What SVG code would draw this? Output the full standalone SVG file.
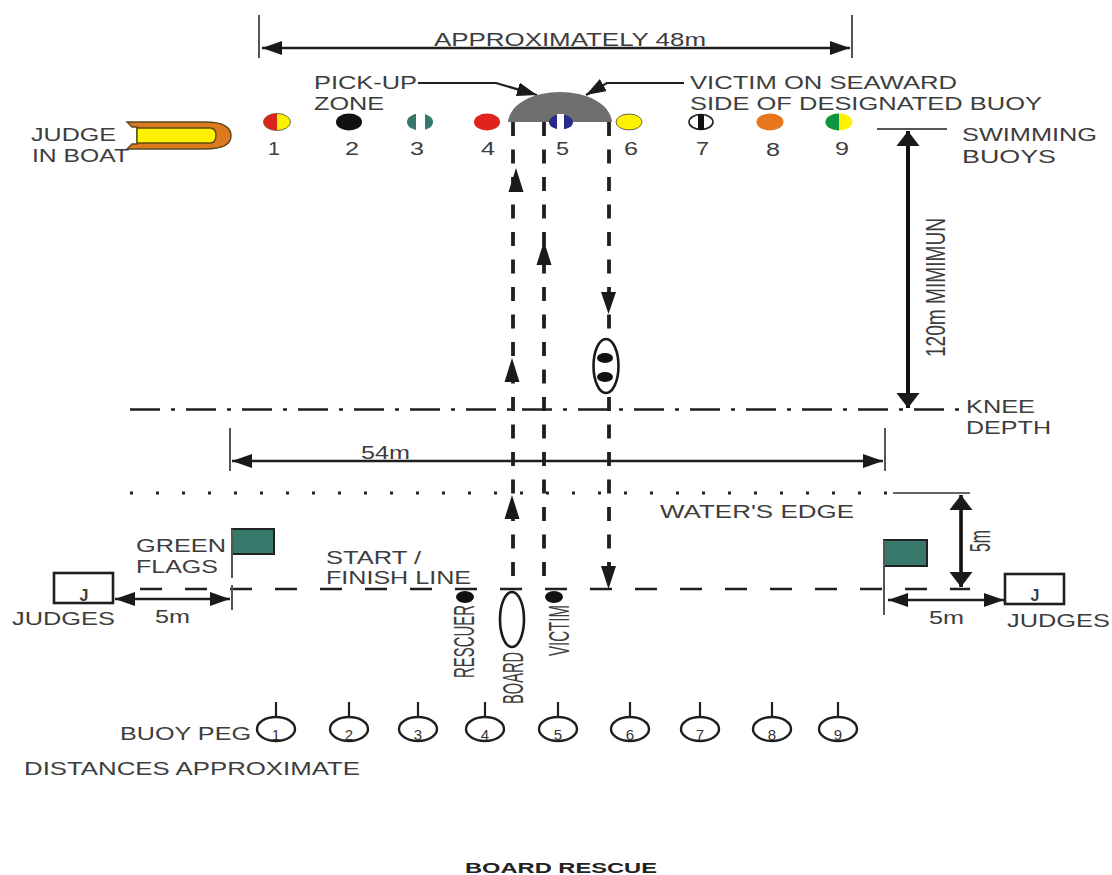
<svg xmlns="http://www.w3.org/2000/svg" width="1112" height="875" viewBox="0 0 1112 875">
<defs>
<marker id="ah" viewBox="0 0 20 14" refX="20" refY="7" markerWidth="20" markerHeight="14" markerUnits="userSpaceOnUse" orient="auto-start-reverse"><path d="M0 0L20 7L0 14z" fill="#1a1a1a"/></marker>
<marker id="aw" viewBox="0 0 15 23" refX="15" refY="11.5" markerWidth="15" markerHeight="23" markerUnits="userSpaceOnUse" orient="auto-start-reverse"><path d="M0 0L15 11.5L0 23z" fill="#1a1a1a"/></marker>
<path id="up" d="M0 0L-7.5 24L7.5 24z" fill="#1a1a1a"/>
</defs>
<style>
text{font-family:"Liberation Sans",Arial,sans-serif;font-size:19px;fill:#3d3d3d}
.c{font-size:18px;text-anchor:start}
.p{font-size:15px;text-anchor:middle;fill:#333}
.r{font-size:30px}
.l{fill:none;stroke:#1f1f1f;stroke-width:2.2}
.dim{fill:none;stroke:#1f1f1f;stroke-width:2.5}
.tick{fill:none;stroke:#555;stroke-width:2}
.d{fill:none;stroke:#1f1f1f;stroke-width:3.8;stroke-dasharray:14 13.5}
.flag{fill:#36796b;stroke:#222;stroke-width:2}
.buoy{stroke:#444;stroke-width:.8}
.peg{fill:#fff;stroke:#1f1f1f;stroke-width:2.4}
</style>
<rect width="1112" height="875" fill="#fff"/>
<g id="connectors">
<path class="tick" d="M259 15V58M852 15V58"/>
<path class="dim" d="M262 48H850" marker-start="url(#ah)" marker-end="url(#ah)"/>
<path class="l" d="M418 83H496L537 95" marker-end="url(#ah)"/>
<path class="l" d="M684 83H607L586 95" marker-end="url(#ah)"/>
<path class="tick" d="M877 129H947"/>
<path d="M908 131V408" stroke="#111" stroke-width="4" fill="none" marker-start="url(#aw)" marker-end="url(#aw)"/>
<path d="M130 409.500H960" fill="none" stroke="#1f1f1f" stroke-width="2.6" stroke-dasharray="30 11 4 11"/>
<path class="tick" d="M230 428V471M885 428V471"/>
<path class="dim" d="M232 461H883" marker-start="url(#ah)" marker-end="url(#ah)"/>
<path d="M130 493H893" fill="none" stroke="#222" stroke-width="3" stroke-dasharray="3 23"/>
<path d="M893 493H970" fill="none" stroke="#333" stroke-width="1.6"/>
<path d="M961 495V587" stroke="#111" stroke-width="3.6" fill="none" marker-start="url(#aw)" marker-end="url(#aw)"/>
<path d="M140 589H970" fill="none" stroke="#1f1f1f" stroke-width="2.4" stroke-dasharray="22 23"/>
<path class="d" d="M513 122V589"/>
<path class="d" d="M544 122V589"/>
<path class="d" d="M609 122V589"/>
<use href="#up" x="516" y="168"/>
<use href="#up" x="544" y="241"/>
<use href="#up" x="512" y="358"/>
<use href="#up" x="512" y="495"/>
<path d="M601 292L616 292L608.500 314z" fill="#1a1a1a"/>
<path d="M601 566L616 566L608.500 589z" fill="#1a1a1a"/>
<path class="tick" d="M232 585V610M884 566V615"/>
<path class="dim" d="M115 599H230" marker-start="url(#ah)" marker-end="url(#ah)"/>
<path class="dim" d="M888 600H1004" marker-start="url(#ah)" marker-end="url(#ah)"/>
</g>
<g id="zone"><path d="M508 122C510 103 534 92 560 92C586 92 610 103 612 122z" fill="#6f6f6f"/></g>
<g id="boat">
<path d="M137 122H205Q231 122 231 136Q231 149 205 149H137L127 149L132 144H137V127H132L127 122z" fill="#dd7a1f" stroke="#5e4620" stroke-width="1.4"/>
<path d="M137 128H210Q216 128 216 135.500Q216 143 210 143H137z" fill="#fff200" stroke="#5a4c12" stroke-width="1.4"/>
<text x="31" y="141" textLength="85" lengthAdjust="spacingAndGlyphs">JUDGE</text><text x="32" y="162" textLength="97" lengthAdjust="spacingAndGlyphs">IN BOAT</text>
</g>
<g id="buoy1"><ellipse class="buoy" cx="277" cy="122" rx="13.500" ry="8.500" fill="#fff200"/><path d="M277 113.500A13.500 8.500 0 0 0 277 130.500z" fill="#d9261c"/><text class="c" x="268" y="155" textLength="12" lengthAdjust="spacingAndGlyphs">1</text></g>
<g id="buoy2"><ellipse cx="349" cy="122" rx="13" ry="8.500" fill="#111"/><text class="c" x="345" y="155" textLength="14" lengthAdjust="spacingAndGlyphs">2</text></g>
<g id="buoy3"><ellipse cx="420" cy="122" rx="13" ry="8.500" fill="#36796b"/><rect x="416" y="113" width="9" height="18" fill="#fff"/><text class="c" x="410" y="155" textLength="14" lengthAdjust="spacingAndGlyphs">3</text></g>
<g id="buoy4"><ellipse cx="487" cy="122" rx="13" ry="8.500" fill="#e0231c"/><text class="c" x="481" y="155" textLength="14" lengthAdjust="spacingAndGlyphs">4</text></g>
<g id="buoy5"><ellipse cx="561" cy="122" rx="12" ry="7.500" fill="#2a2a8a"/><rect x="557" y="114" width="7" height="16" fill="#fff"/><text class="c" x="556" y="155" textLength="13" lengthAdjust="spacingAndGlyphs">5</text></g>
<g id="buoy6"><ellipse class="buoy" cx="629" cy="122" rx="13" ry="8" fill="#fff200"/><text class="c" x="624" y="155" textLength="14" lengthAdjust="spacingAndGlyphs">6</text></g>
<g id="buoy7"><ellipse cx="701" cy="122" rx="12" ry="7.500" fill="#fff" stroke="#222" stroke-width="1.600"/><rect x="698" y="114" width="6" height="16" fill="#111"/><text class="c" x="696" y="155" textLength="13" lengthAdjust="spacingAndGlyphs">7</text></g>
<g id="buoy8"><ellipse cx="770" cy="122" rx="13.500" ry="8.500" fill="#e8761c"/><text class="c" x="766" y="156" textLength="14" lengthAdjust="spacingAndGlyphs">8</text></g>
<g id="buoy9"><ellipse cx="839" cy="122" rx="13.500" ry="8.500" fill="#fff200"/><path d="M839 113.500A13.500 8.500 0 0 0 839 130.500z" fill="#0d9444"/><text class="c" x="835" y="155" textLength="14" lengthAdjust="spacingAndGlyphs">9</text></g>
<g id="labels">
<text x="434" y="46" textLength="272" lengthAdjust="spacingAndGlyphs">APPROXIMATELY 48m</text>
<text x="314" y="89" textLength="103" lengthAdjust="spacingAndGlyphs">PICK-UP</text><text x="314" y="110" textLength="70" lengthAdjust="spacingAndGlyphs">ZONE</text>
<text x="690" y="89" textLength="267" lengthAdjust="spacingAndGlyphs">VICTIM ON SEAWARD</text><text x="690" y="110" textLength="352" lengthAdjust="spacingAndGlyphs">SIDE OF DESIGNATED BUOY</text>
<text x="962" y="141" textLength="135" lengthAdjust="spacingAndGlyphs">SWIMMING</text><text x="962" y="163" textLength="94" lengthAdjust="spacingAndGlyphs">BUOYS</text>
<text x="966" y="413" textLength="69" lengthAdjust="spacingAndGlyphs">KNEE</text><text x="966" y="434" textLength="85" lengthAdjust="spacingAndGlyphs">DEPTH</text>
<text x="361" y="459" textLength="49" lengthAdjust="spacingAndGlyphs">54m</text>
<text x="660" y="518" textLength="194" lengthAdjust="spacingAndGlyphs">WATER'S EDGE</text>
<text x="326" y="564" textLength="95" lengthAdjust="spacingAndGlyphs">START /</text><text x="326" y="584" textLength="145" lengthAdjust="spacingAndGlyphs">FINISH LINE</text>
<text x="136" y="552" textLength="90" lengthAdjust="spacingAndGlyphs">GREEN</text><text x="136" y="573" textLength="82" lengthAdjust="spacingAndGlyphs">FLAGS</text>
<text x="12" y="625" textLength="103" lengthAdjust="spacingAndGlyphs">JUDGES</text><text x="155" y="623" textLength="35" lengthAdjust="spacingAndGlyphs">5m</text>
<text x="929" y="624" textLength="35" lengthAdjust="spacingAndGlyphs">5m</text><text x="1007" y="627" textLength="103" lengthAdjust="spacingAndGlyphs">JUDGES</text>
<text x="120" y="740" textLength="131" lengthAdjust="spacingAndGlyphs">BUOY PEG</text>
<text x="24" y="775" textLength="336" lengthAdjust="spacingAndGlyphs">DISTANCES APPROXIMATE</text>
<text x="465" y="873" textLength="192" lengthAdjust="spacingAndGlyphs" style="font-size:14px;font-weight:bold;fill:#222">BOARD RESCUE</text>
<text transform="translate(945 357) rotate(-90)" textLength="139" lengthAdjust="spacingAndGlyphs" style="font-size:27px">120m MIMIMUN</text>
<text class="r" transform="translate(990 552) rotate(-90)" textLength="22" lengthAdjust="spacingAndGlyphs">5m</text>
<text class="r" transform="translate(474 678) rotate(-90)" textLength="73" lengthAdjust="spacingAndGlyphs">RESCUER</text>
<text class="r" transform="translate(523 704) rotate(-90)" textLength="52" lengthAdjust="spacingAndGlyphs">BOARD</text>
<text class="r" transform="translate(569 656) rotate(-90)" textLength="51" lengthAdjust="spacingAndGlyphs">VICTIM</text>
</g>
<g id="flag-left"><rect class="flag" x="232" y="529" width="42" height="25"/><path class="tick" d="M232 529V578"/></g>
<g id="flag-right"><rect class="flag" x="884" y="540" width="43" height="26"/><path class="tick" d="M884 540V568"/></g>
<g id="judge-left"><rect x="54" y="573" width="59" height="30" fill="none" stroke="#1f1f1f" stroke-width="2.600"/><text x="84" y="601" text-anchor="middle" style="font-size:16px;font-weight:bold">J</text></g>
<g id="judge-right"><rect x="1005" y="574" width="59" height="30" fill="none" stroke="#1f1f1f" stroke-width="2.600"/><text x="1035" y="601" text-anchor="middle" style="font-size:16px;font-weight:bold">J</text></g>
<g id="board-water"><ellipse cx="606" cy="366" rx="12.500" ry="27" fill="#fff" stroke="#1a1a1a" stroke-width="2.600"/><ellipse cx="605" cy="358" rx="8" ry="5" fill="#111"/><ellipse cx="605" cy="377" rx="8" ry="5" fill="#111"/></g>
<g id="rescuer"><ellipse cx="465" cy="597" rx="9" ry="6" fill="#111"/></g>
<g id="board"><ellipse cx="512" cy="619.500" rx="12" ry="27.500" fill="#fff" stroke="#1a1a1a" stroke-width="2.600"/></g>
<g id="victim"><ellipse cx="554" cy="597" rx="9" ry="6" fill="#111"/></g>
<g id="pegs">
<g id="peg1"><path class="l" d="M276 702V717"/><ellipse class="peg" cx="276" cy="729" rx="19" ry="12"/><text class="p" x="276" y="740">1</text></g>
<g id="peg2"><path class="l" d="M349 702V717"/><ellipse class="peg" cx="349" cy="729" rx="19" ry="12"/><text class="p" x="349" y="740">2</text></g>
<g id="peg3"><path class="l" d="M418 702V717"/><ellipse class="peg" cx="418" cy="729" rx="19" ry="12"/><text class="p" x="418" y="740">3</text></g>
<g id="peg4"><path class="l" d="M485 702V717"/><ellipse class="peg" cx="485" cy="729" rx="19" ry="12"/><text class="p" x="485" y="740">4</text></g>
<g id="peg5"><path class="l" d="M558 702V717"/><ellipse class="peg" cx="558" cy="729" rx="19" ry="12"/><text class="p" x="558" y="740">5</text></g>
<g id="peg6"><path class="l" d="M630 702V717"/><ellipse class="peg" cx="630" cy="729" rx="19" ry="12"/><text class="p" x="630" y="740">6</text></g>
<g id="peg7"><path class="l" d="M700 702V717"/><ellipse class="peg" cx="700" cy="729" rx="19" ry="12"/><text class="p" x="700" y="740">7</text></g>
<g id="peg8"><path class="l" d="M772 702V717"/><ellipse class="peg" cx="772" cy="729" rx="19" ry="12"/><text class="p" x="772" y="740">8</text></g>
<g id="peg9"><path class="l" d="M838 702V717"/><ellipse class="peg" cx="838" cy="729" rx="19" ry="12"/><text class="p" x="838" y="740">9</text></g>
</g>
</svg>
